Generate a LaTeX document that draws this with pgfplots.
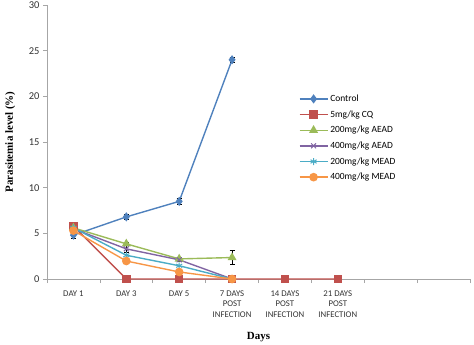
\documentclass[border=0pt]{standalone}
\usepackage{pgfplots}
\pgfplotsset{compat=1.18}
\usepackage{fontspec}
\setmainfont{Carlito}
\newfontfamily\seriffont{Liberation Serif}
\definecolor{cCtrl}{HTML}{4F81BD}
\definecolor{cCQ}{HTML}{C0504D}
\definecolor{cAEADa}{HTML}{9BBB59}
\definecolor{cAEADb}{HTML}{8064A2}
\definecolor{cMEADa}{HTML}{4BACC6}
\definecolor{cMEADb}{HTML}{F79646}
\begin{document}
\begin{tikzpicture}
\useasboundingbox (-47bp,-66bp) rectangle (427bp,279bp);
\begin{axis}[
  width=423bp, height=274bp, scale only axis,
  xmin=-0.5, xmax=7.5, ymin=0, ymax=30,
  axis x line=bottom, axis y line=left,
  axis line style={-, draw=gray!70, line width=0.6pt},
  tick align=outside,
  xtick={0,1,2,3,4,5},
  xticklabels={DAY 1, DAY 3, DAY 5, {7 DAYS\\POST\\INFECTION}, {14 DAYS\\POST\\INFECTION}, {21 DAYS\\POST\\INFECTION}},
  xticklabel style={align=center, anchor=north, font=\fontsize{8.8}{10.6}\selectfont, text=black!80, yshift=-4bp},
  major x tick style={draw=none},
  minor xtick={-0.5,0.5,1.5,2.5,3.5,4.5,5.5,6.5,7.5},
  minor tick length=4bp,
  minor x tick style={draw=gray!70, line width=0.6pt},
  ytick={0,5,...,30},
  major tick length=4bp,
  y tick style={draw=gray!70, line width=0.6pt},
  yticklabel style={font=\fontsize{10.5}{12}\selectfont, text=black!80},
  /pgf/number format/assume math mode=true,
  xlabel={\seriffont\bfseries Days},
  xlabel style={at={(axis description cs:0.5,-0.212)}, anchor=center, font=\fontsize{11}{13}\selectfont},
  ylabel={\seriffont\bfseries Parasitemia level (\%)},
  ylabel style={at={(axis description cs:-0.087,0.5)}, anchor=center, font=\fontsize{11}{13}\selectfont},
  legend style={at={(axis description cs:0.595,0.68)}, anchor=north west, draw=none, fill=none,
    font=\fontsize{9.5}{11}\selectfont, row sep=3.6bp, inner sep=0pt},
  legend cell align=left,
  legend image code/.code={\draw[mark repeat=2,mark phase=2] plot coordinates {(0bp,0bp)(14bp,0bp)(28bp,0bp)};},
  every axis plot/.append style={line width=1.4pt},
  error bars/error bar style={black, line width=0.7pt},
  error bars/error mark options={rotate=90, mark size=2.5bp, black, line width=0.7pt},
]
\addplot[color=cCtrl, mark=diamond*, mark size=3.5bp, mark options={solid, fill=cCtrl, draw=cCtrl},
  error bars/.cd, y dir=both, y explicit] coordinates {
  (0,4.8) +- (0,0.3) (1,6.8) +- (0,0.3) (2,8.5) +- (0,0.3) (3,24.0) +- (0,0.3)};
\addlegendentry{Control}
\addplot[color=cCQ, mark=square*, mark size=3.6bp, mark options={solid, fill=cCQ, draw=cCQ}] coordinates {
  (0,5.8) (1,0) (2,0) (3,0) (4,0) (5,0)};
\addlegendentry{5mg/kg CQ}
\addplot[color=cAEADa, mark=triangle*, mark size=3.8bp, mark options={solid, fill=cAEADa, draw=cAEADa},
  error bars/.cd, y dir=both, y explicit] coordinates {
  (0,5.6) +- (0,0.2) (1,3.85) +- (0,0.2) (2,2.2) +- (0,0.2) (3,2.35) +- (0,0.77)};
\addlegendentry{200mg/kg AEAD}
\addplot[color=cAEADb, mark=x, mark size=3.5bp, mark options={solid, draw=cAEADb, line width=1pt},
  error bars/.cd, y dir=both, y explicit] coordinates {
  (0,5.5) +- (0,0.2) (1,3.3) +- (0,0.35) (2,2.1) +- (0,0.2) (3,0) +- (0,0)};
\addlegendentry{400mg/kg AEAD}
\addplot[color=cMEADa, mark=asterisk, mark size=3.5bp, mark options={solid, draw=cMEADa, line width=1pt}] coordinates {
  (0,5.6) (1,2.6) (2,1.45) (3,0)};
\addlegendentry{200mg/kg MEAD}
\addplot[color=cMEADb, mark=*, mark size=3.6bp, mark options={solid, fill=cMEADb, draw=cMEADb}] coordinates {
  (0,5.3) (1,1.97) (2,0.77) (3,0)};
\addlegendentry{400mg/kg MEAD}
\end{axis}
\end{tikzpicture}
\end{document}
